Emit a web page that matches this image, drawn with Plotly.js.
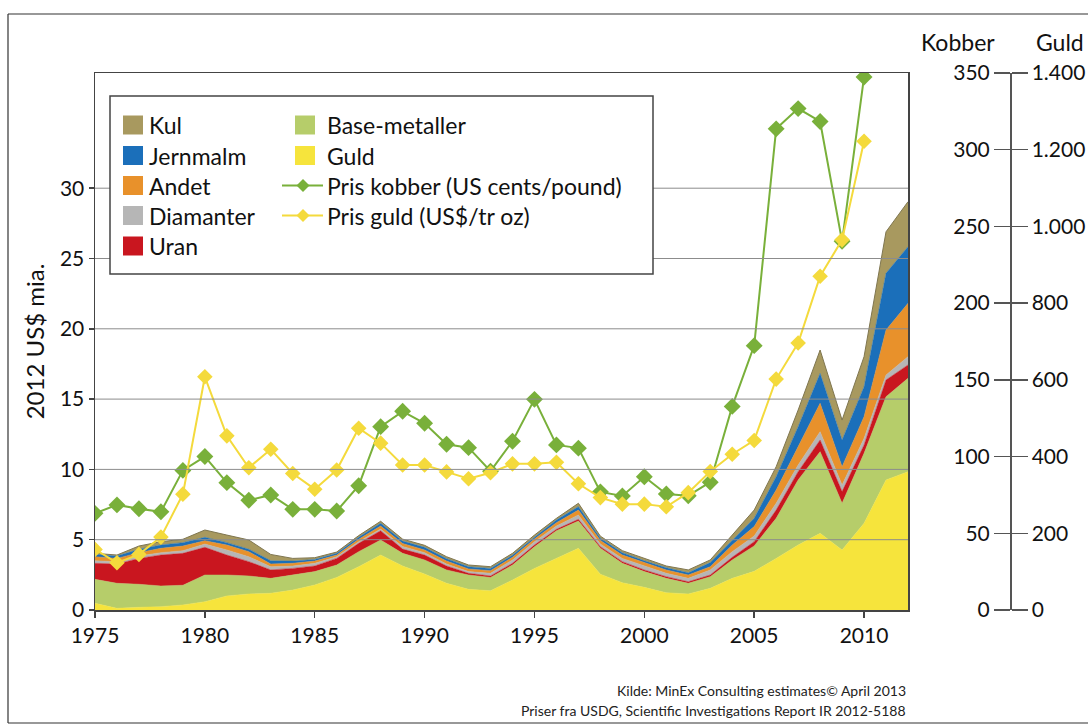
<!DOCTYPE html>
<html><head><meta charset="utf-8">
<script src="https://cdn.plot.ly/plotly-3.0.1.min.js"></script>
<style>html,body{margin:0;padding:0;background:#fff}#chart{width:1088px;height:727px}</style>
</head><body><div id="chart"></div>
<script>
// ---------- DATA ----------
const years = [1975,1976,1977,1978,1979,1980,1981,1982,1983,1984,1985,1986,1987,1988,1989,1990,1991,1992,1993,1994,1995,1996,1997,1998,1999,2000,2001,2002,2003,2004,2005,2006,2007,2008,2009,2010,2011,2012];
// Value of production, 2012 US$ bn (stacked, bottom to top)
const guld      = [0.48,0.12,0.19,0.24,0.36,0.59,1.00,1.14,1.19,1.42,1.78,2.32,3.08,3.91,3.13,2.56,1.90,1.47,1.37,2.13,2.96,3.68,4.39,2.55,1.94,1.61,1.23,1.14,1.54,2.25,2.75,3.67,4.62,5.45,4.27,6.17,9.25,9.84];
const baseMet   = [1.70,1.78,1.64,1.47,1.40,1.90,1.49,1.28,1.06,1.07,0.95,0.88,1.07,1.07,0.90,1.00,0.95,1.02,0.95,1.07,1.54,1.96,1.94,1.85,1.38,1.12,1.02,0.76,0.83,1.31,1.81,2.85,4.63,5.81,3.32,4.97,5.92,6.64];
const uran      = [1.14,1.37,1.84,2.20,2.27,1.97,1.42,1.02,0.60,0.47,0.40,0.47,0.59,0.66,0.30,0.35,0.28,0.12,0.10,0.12,0.12,0.10,0.12,0.10,0.12,0.12,0.12,0.11,0.12,0.19,0.30,0.59,0.59,0.83,0.83,0.60,1.19,0.95];
const diamanter = [0.18,0.17,0.17,0.17,0.19,0.23,0.36,0.35,0.23,0.17,0.19,0.12,0.12,0.12,0.19,0.17,0.14,0.12,0.19,0.24,0.24,0.23,0.31,0.20,0.23,0.28,0.24,0.24,0.36,0.40,0.41,0.48,0.47,0.59,0.47,0.47,0.35,0.59];
const andet     = [0.29,0.23,0.24,0.31,0.33,0.24,0.35,0.36,0.19,0.19,0.16,0.12,0.17,0.21,0.21,0.19,0.21,0.19,0.19,0.19,0.19,0.24,0.35,0.25,0.24,0.24,0.24,0.24,0.23,0.47,0.66,0.94,1.31,2.02,1.30,1.54,3.20,3.79];
const jernmalm  = [0.17,0.17,0.24,0.23,0.24,0.24,0.17,0.17,0.23,0.16,0.12,0.12,0.14,0.20,0.17,0.19,0.17,0.16,0.16,0.14,0.12,0.19,0.24,0.15,0.17,0.13,0.16,0.16,0.29,0.36,0.59,0.95,1.42,2.13,1.90,2.13,4.04,4.03];
const kul       = [0.07,0.07,0.23,0.24,0.24,0.52,0.54,0.66,0.45,0.19,0.12,0.09,0.12,0.14,0.14,0.14,0.14,0.12,0.12,0.14,0.16,0.12,0.24,0.15,0.14,0.15,0.12,0.20,0.19,0.35,0.59,0.71,1.18,1.66,1.42,2.14,2.95,3.20];

const priceYears = [1975,1976,1977,1978,1979,1980,1981,1982,1983,1984,1985,1986,1987,1988,1989,1990,1991,1992,1993,1994,1995,1996,1997,1998,1999,2000,2001,2002,2003,2004,2005,2006,2007,2008,2009,2010];
const prisKobber = [63,68.5,66,64,91,100,83,71.5,75,65.6,65.6,64.5,81,119.5,129.5,121.7,108,105.8,90.5,110,137.3,107.6,105.5,77,74.3,86.8,75.6,74.5,83.3,132.7,172.3,313.6,326.8,318.4,240.3,347.4];
const prisGuld   = [158,123,145,190,302,608,454,371,419,356,315,365,474,435,378,378,360,342,358,381,381,385,329,293,276,276,269,306,361,406,442,602,696,870,965,1222];

const xTicks = [1975,1980,1985,1990,1995,2000,2005,2010];
const leftTicks = [0,5,10,15,20,25,30];
const copperTicks = [0,50,100,150,200,250,300,350];
const goldTicks = [0,200,400,600,800,1000,1200,1400];
const goldTickText = ['0','200','400','600','800','1.000','1.200','1.400'];

const stackNames = ['Guld','Base-metaller','Uran','Diamanter','Andet','Jernmalm','Kul'];
const stackData  = [guld, baseMet, uran, diamanter, andet, jernmalm, kul];
const stackColors = ['#f6e43c','#b6cd6a','#c9161f','#b6b6b6','#e8912b','#1b6fba','#a8995f'];
const stackLines  = ['#f6e43c','#b6cd6a','#c9161f','#b6b6b6','#e8912b','#1b6fba','#7f7650'];
const copperName = 'Pris kobber (US cents/pound)';
const goldName = 'Pris guld (US$/tr oz)';
const copperColor = '#79b03a';
const goldColor = '#f4da3c';

// ---------- GEOMETRY (pixel -> paper helpers) ----------
const W=1088, H=727, ML=95, MR=8, MT=73, MB=117;
const PW = W-ML-MR, PH = H-MT-MB;
const px = v => (v-ML)/PW;
const py = v => (H-MB-v)/PH;
const FONT = 'Lato, "Open Sans", "DejaVu Sans", sans-serif';

// ---------- TRACES ----------
const traces = stackData.map((arr,i)=>({
  x: years, y: arr, name: stackNames[i], stackgroup: 'one', type: 'scatter',
  mode: 'lines', line: {width: i===6?1:0.5, color: stackLines[i]},
  fillcolor: stackColors[i], showlegend: false
}));
traces.push({
  x: priceYears, y: prisKobber, name: copperName, yaxis: 'y2', type: 'scatter',
  mode: 'lines+markers', line: {color: copperColor, width: 2},
  marker: {symbol: 'diamond', size: 13, color: copperColor}, showlegend: false
});
traces.push({
  x: priceYears, y: prisGuld, name: goldName, yaxis: 'y3', type: 'scatter',
  mode: 'lines+markers', line: {color: goldColor, width: 2},
  marker: {symbol: 'diamond', size: 12, color: goldColor}, showlegend: false
});

// ---------- SHAPES ----------
const shapes = [];
leftTicks.filter(v=>v>0).forEach(v=>shapes.push({
  type:'line', xref:'x domain', yref:'y', x0:0, x1:1, y0:v, y1:v,
  line:{color:'#8c8c8c', width:1}, layer:'above'
}));
// outer frame
shapes.push({type:'line', xref:'paper', yref:'paper', x0:px(8), x1:px(1088), y0:py(14), y1:py(14), line:{color:'#333', width:1.2}});
shapes.push({type:'line', xref:'paper', yref:'paper', x0:px(8), x1:px(8), y0:py(14), y1:py(723), line:{color:'#333', width:1.2}});
shapes.push({type:'line', xref:'paper', yref:'paper', x0:px(8), x1:px(1088), y0:py(723), y1:py(723), line:{color:'#333', width:1.2}});
// legend box
shapes.push({type:'rect', xref:'paper', yref:'paper', x0:px(110), x1:px(653), y0:py(274), y1:py(96),
  line:{color:'#444', width:1.5}, fillcolor:'#fff', layer:'above'});

const LFS = 23;
const annotations = [];
const rowY = [125, 155.5, 185.5, 215.5, 246];
const col1 = ['Kul','Jernmalm','Andet','Diamanter','Uran'];
const col1Colors = [stackColors[6], stackColors[5], stackColors[4], stackColors[3], stackColors[2]];
col1.forEach((t,i)=>{
  shapes.push({type:'rect', xref:'paper', yref:'paper', x0:px(123), x1:px(143), y0:py(rowY[i]+9.5), y1:py(rowY[i]-9.5),
    line:{width:0}, fillcolor: col1Colors[i], layer:'above'});
  annotations.push({xref:'paper', yref:'paper', x:px(147), y:py(rowY[i]), xanchor:'left', yanchor:'middle',
    text:t, showarrow:false, font:{size:LFS, color:'#111', family:FONT}});
});
const col2 = [stackNames[1], stackNames[0], copperName, goldName];
col2.forEach((t,i)=>{
  if (i<2) {
    shapes.push({type:'rect', xref:'paper', yref:'paper', x0:px(295), x1:px(315), y0:py(rowY[i]+9.5), y1:py(rowY[i]-9.5),
      line:{width:0}, fillcolor: i===0?stackColors[1]:stackColors[0], layer:'above'});
  } else {
    const c = i===2?copperColor:goldColor;
    const cy = rowY[i];
    shapes.push({type:'line', xref:'paper', yref:'paper', x0:px(282), x1:px(323), y0:py(cy), y1:py(cy),
      line:{color:c, width:2}, layer:'above'});
    const d = 6.5;
    shapes.push({type:'path', xref:'paper', yref:'paper',
      path:`M ${px(303)},${py(cy-d)} L ${px(303+d)},${py(cy)} L ${px(303)},${py(cy+d)} L ${px(303-d)},${py(cy)} Z`,
      line:{width:0}, fillcolor:c, layer:'above'});
  }
  annotations.push({xref:'paper', yref:'paper', x:px(325), y:py(rowY[i]), xanchor:'left', yanchor:'middle',
    text:t, showarrow:false, font:{size:LFS, color:'#111', family:FONT}});
});
// right-axis headers
annotations.push({xref:'paper', yref:'paper', x:px(958), y:py(42), xanchor:'center', yanchor:'middle', text:'Kobber', showarrow:false, font:{size:23, color:'#111', family:FONT}});
annotations.push({xref:'paper', yref:'paper', x:px(1060), y:py(42), xanchor:'center', yanchor:'middle', text:'Guld', showarrow:false, font:{size:23, color:'#111', family:FONT}});
// source
annotations.push({xref:'paper', yref:'paper', x:px(908), y:py(690), xanchor:'right', yanchor:'middle', text:'Kilde: MinEx Consulting estimates© April 2013', showarrow:false, font:{size:14, color:'#222', family:FONT}});
annotations.push({xref:'paper', yref:'paper', x:px(908), y:py(710), xanchor:'right', yanchor:'middle', text:'Priser fra USDG, Scientific Investigations Report IR 2012-5188', showarrow:false, font:{size:14, color:'#222', family:FONT}});

const tickFont = {size:21, color:'#111', family:FONT};
const layout = {
  width: W, height: H,
  margin: {l:ML, r:MR, t:MT, b:MB, pad:0},
  paper_bgcolor:'#fff', plot_bgcolor:'#fff',
  font: {family: FONT, color:'#111'},
  showlegend: false,
  hovermode: false,
  xaxis: {
    domain:[0, px(908)], range:[1975, 2012], tickmode:'array', tickvals:xTicks,
    ticks:'outside', ticklen:6, tickwidth:1.5, tickcolor:'#444',
    showline:true, linecolor:'#444', linewidth:1.5, mirror:true,
    showgrid:false, zeroline:false, tickfont:tickFont
  },
  yaxis: {
    range:[0, 537/14.06], tickmode:'array', tickvals:leftTicks,
    ticks:'outside', ticklen:5, tickwidth:1.5, tickcolor:'#444',
    showline:true, linecolor:'#444', linewidth:1.5, mirror:true,
    showgrid:false, zeroline:false, tickfont:tickFont,
    title:{text:'2012 US$ mia.', standoff:8, font:{size:24, color:'#111', family:FONT}}
  },
  yaxis2: {
    overlaying:'y', anchor:'free', position:px(1010), side:'left',
    range:[0,350], tickmode:'array', tickvals:copperTicks,
    ticks:'outside', ticklen:16, tickwidth:1.5, tickcolor:'#555',
    showline:true, linecolor:'#555', linewidth:1.5,
    showgrid:false, zeroline:false, tickfont:tickFont
  },
  yaxis3: {
    overlaying:'y', anchor:'free', position:px(1010), side:'right',
    range:[0,1400], tickmode:'array', tickvals:goldTicks, ticktext:goldTickText,
    ticks:'outside', ticklen:16, tickwidth:1.5, tickcolor:'#555',
    showline:true, linecolor:'#555', linewidth:1.5,
    showgrid:false, zeroline:false, tickfont:tickFont
  },
  shapes: shapes,
  annotations: annotations
};
Plotly.newPlot('chart', traces, layout, {displayModeBar:false, staticPlot:true});
</script></body></html>
